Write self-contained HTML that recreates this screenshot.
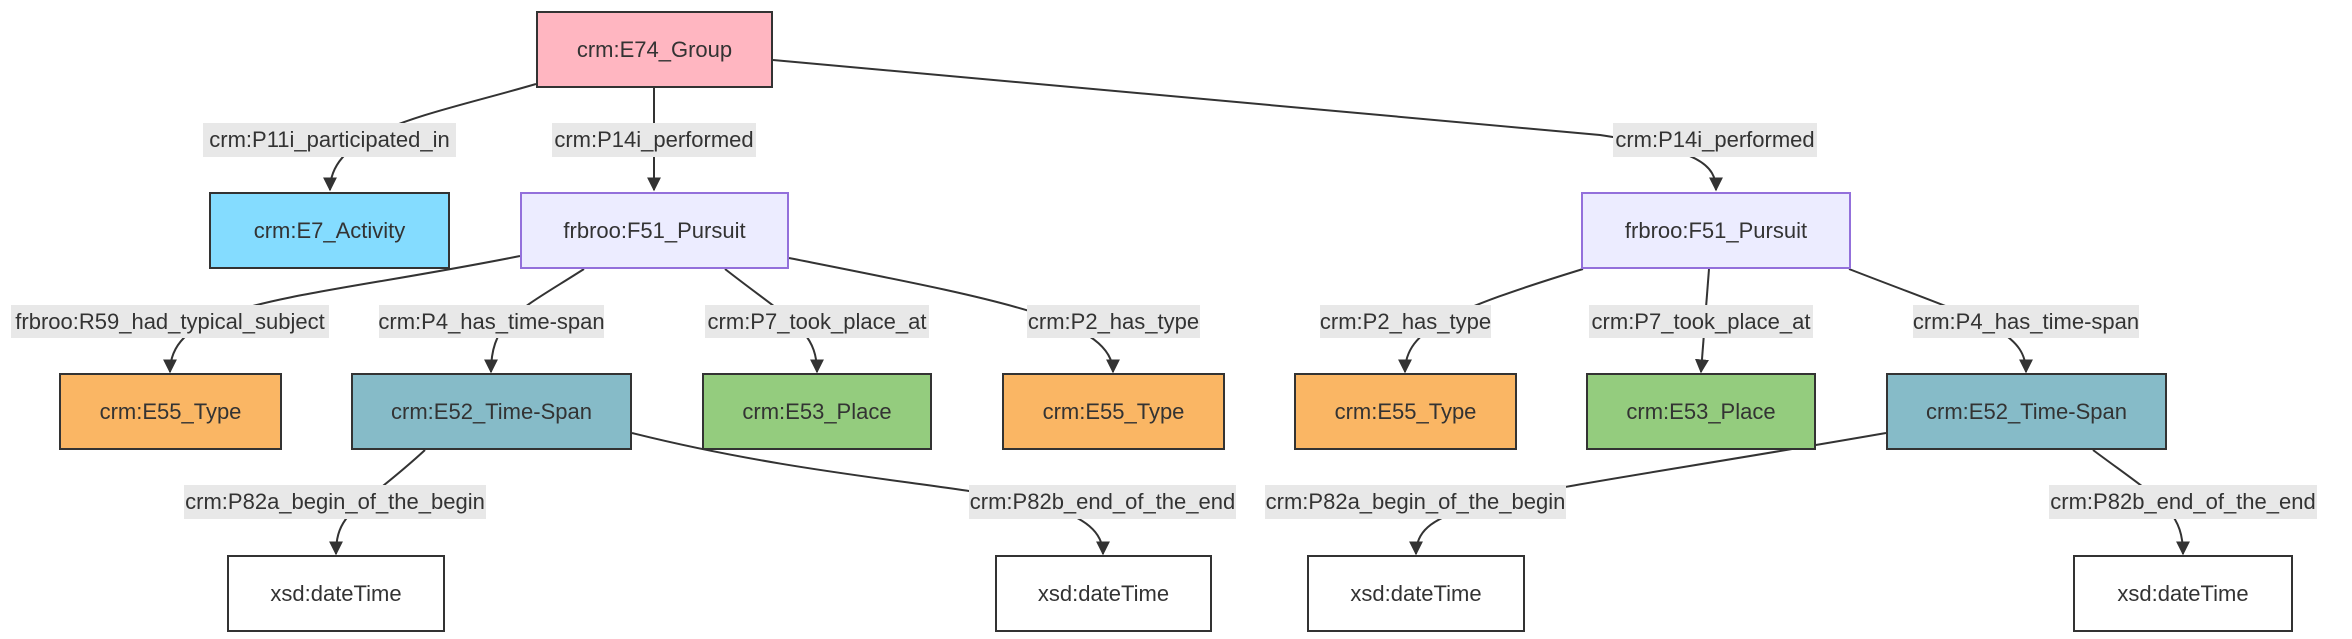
<!DOCTYPE html>
<html><head><meta charset="utf-8"><style>
body{margin:0;width:2352px;height:639px;background:#fff;position:relative;overflow:hidden;font-family:"Liberation Sans",sans-serif;color:#333}
.n{position:absolute;box-sizing:border-box;border:2px solid #333;display:flex;align-items:center;justify-content:center;font-size:22px}
.l{position:absolute;background:#e8e8e8;display:flex;align-items:center;justify-content:center;font-size:22px;white-space:nowrap}
svg{position:absolute;left:0;top:0}
</style></head><body>
<svg width="2352" height="639">
<defs><marker id="a" viewBox="0 0 10 10" refX="9" refY="5" markerWidth="7" markerHeight="7" markerUnits="userSpaceOnUse" orient="auto"><path d="M0,0L10,5L0,10z" fill="#333"/></marker></defs>
<defs><marker id="b" viewBox="0 0 10 10" refX="9" refY="5" markerWidth="14" markerHeight="14" markerUnits="userSpaceOnUse" orient="auto"><path d="M0,0L10,5L0,10z" fill="#333"/></marker></defs>
<g fill="none" stroke="#333" stroke-width="2" marker-end="url(#b)">
<path d="M536,84 C430,115 330,130 330,190"/>
<path d="M654,88 L654,190"/>
<path d="M773,60 L1600,135 C1700,150 1716,165 1716,190"/>
<path d="M520,256 C300,300 170,300 170,372"/>
<path d="M584,269 C520,310 491,320 491,372"/>
<path d="M725,269 C790,320 817,330 817,372"/>
<path d="M789,258 C1000,300 1113,320 1113,372"/>
<path d="M1583,269 C1450,310 1405,330 1405,372"/>
<path d="M1709,269 L1701,372"/>
<path d="M1849,269 C1980,320 2026,330 2026,372"/>
<path d="M425,450 C360,510 336,510 336,554"/>
<path d="M632,433 C900,500 1103,480 1103,554"/>
<path d="M1886,433 C1500,500 1416,500 1416,554"/>
<path d="M2093,450 C2160,500 2183,510 2183,554"/>
</g></svg>
<div class="n" style="left:536px;top:11px;width:237px;height:77px;background:#ffb6c1">crm:E74_Group</div>
<div class="n" style="left:209px;top:192px;width:241px;height:77px;background:#84dcff">crm:E7_Activity</div>
<div class="n" style="left:520px;top:192px;width:269px;height:77px;background:#ececff;border-color:#9370db">frbroo:F51_Pursuit</div>
<div class="n" style="left:1581px;top:192px;width:270px;height:77px;background:#ececff;border-color:#9370db">frbroo:F51_Pursuit</div>
<div class="n" style="left:59px;top:373px;width:223px;height:77px;background:#fab664">crm:E55_Type</div>
<div class="n" style="left:351px;top:373px;width:281px;height:77px;background:#86bbc8">crm:E52_Time-Span</div>
<div class="n" style="left:702px;top:373px;width:230px;height:77px;background:#94cc7e">crm:E53_Place</div>
<div class="n" style="left:1002px;top:373px;width:223px;height:77px;background:#fab664">crm:E55_Type</div>
<div class="n" style="left:1294px;top:373px;width:223px;height:77px;background:#fab664">crm:E55_Type</div>
<div class="n" style="left:1586px;top:373px;width:230px;height:77px;background:#94cc7e">crm:E53_Place</div>
<div class="n" style="left:1886px;top:373px;width:281px;height:77px;background:#86bbc8">crm:E52_Time-Span</div>
<div class="n" style="left:227px;top:555px;width:218px;height:77px;background:#fff">xsd:dateTime</div>
<div class="n" style="left:995px;top:555px;width:217px;height:77px;background:#fff">xsd:dateTime</div>
<div class="n" style="left:1307px;top:555px;width:218px;height:77px;background:#fff">xsd:dateTime</div>
<div class="n" style="left:2073px;top:555px;width:220px;height:77px;background:#fff">xsd:dateTime</div>
<div class="l" style="left:203px;top:123px;width:253px;height:34px">crm:P11i_participated_in</div>
<div class="l" style="left:552px;top:123px;width:204px;height:34px">crm:P14i_performed</div>
<div class="l" style="left:1613px;top:123px;width:204px;height:34px">crm:P14i_performed</div>
<div class="l" style="left:11px;top:305px;width:318px;height:33px">frbroo:R59_had_typical_subject</div>
<div class="l" style="left:379px;top:305px;width:225px;height:33px">crm:P4_has_time-span</div>
<div class="l" style="left:705px;top:305px;width:224px;height:33px">crm:P7_took_place_at</div>
<div class="l" style="left:1027px;top:305px;width:173px;height:33px">crm:P2_has_type</div>
<div class="l" style="left:1320px;top:305px;width:171px;height:33px">crm:P2_has_type</div>
<div class="l" style="left:1589px;top:305px;width:224px;height:33px">crm:P7_took_place_at</div>
<div class="l" style="left:1913px;top:305px;width:226px;height:33px">crm:P4_has_time-span</div>
<div class="l" style="left:184px;top:485px;width:302px;height:34px">crm:P82a_begin_of_the_begin</div>
<div class="l" style="left:969px;top:485px;width:267px;height:34px">crm:P82b_end_of_the_end</div>
<div class="l" style="left:1265px;top:485px;width:301px;height:34px">crm:P82a_begin_of_the_begin</div>
<div class="l" style="left:2049px;top:485px;width:268px;height:34px">crm:P82b_end_of_the_end</div>
</body></html>
